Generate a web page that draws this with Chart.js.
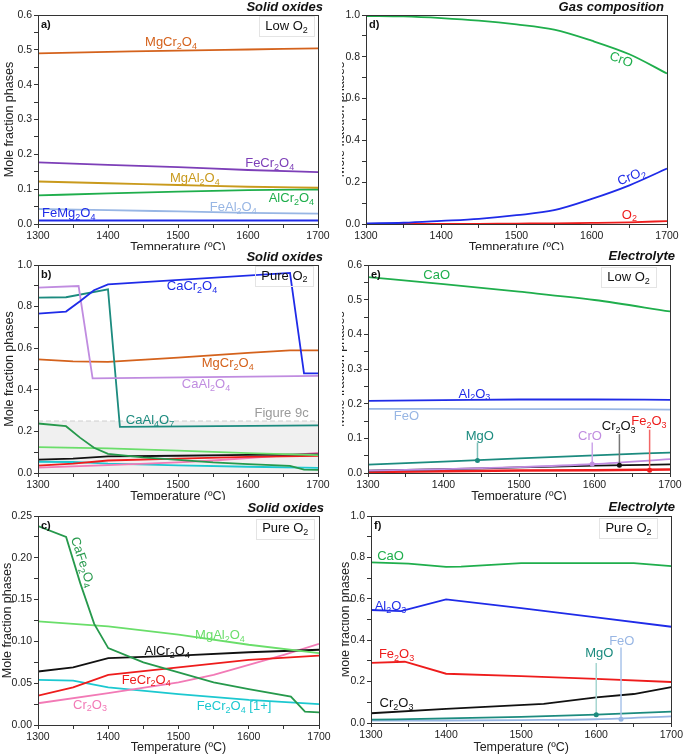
<!DOCTYPE html>
<html>
<head>
<meta charset="utf-8">
<script src="https://cdn.jsdelivr.net/npm/chart.js@4.4.0/dist/chart.umd.min.js"></script>
<style>
  body { margin: 0; background: #fff; }
  #wrap { position: relative; width: 685px; height: 756px; overflow: hidden; }
  canvas { position: absolute; }
</style>
</head>
<body>
<div id="wrap">
  <canvas id="pa" width="342" height="250" style="left:0;top:0"></canvas>
  <canvas id="pb" width="342" height="250" style="left:0;top:250px"></canvas>
  <canvas id="pc" width="342" height="256" style="left:0;top:500px"></canvas>
  <canvas id="pd" width="343" height="250" style="left:342px;top:0"></canvas>
  <canvas id="pe" width="343" height="250" style="left:342px;top:250px"></canvas>
  <canvas id="pf" width="343" height="256" style="left:342px;top:500px"></canvas>
</div>
<script>
// ---------------- data (temperature in ºC, mole fractions) ----------------
// a) solid oxides, low O2
const tA = [1300, 1400, 1500, 1600, 1700];
const aMgCr2O4 = [0.490, 0.494, 0.498, 0.501, 0.504];
const aFeCr2O4 = [0.177, 0.170, 0.163, 0.155, 0.149];
const aMgAl2O4 = [0.122, 0.117, 0.112, 0.107, 0.104];
const aAlCr2O4 = [0.082, 0.088, 0.093, 0.097, 0.099];
const aFeAl2O4 = [0.043, 0.040, 0.036, 0.032, 0.030];
const aFeMg2O4 = [0.010, 0.010, 0.010, 0.010, 0.010];

// d) gas composition
const tD = [1300, 1350, 1400, 1450, 1500, 1550, 1600, 1650, 1700];
const dCrO  = [0.995, 0.993, 0.985, 0.973, 0.955, 0.930, 0.877, 0.812, 0.720];
const dCrO2 = [0.003, 0.006, 0.015, 0.025, 0.042, 0.066, 0.120, 0.185, 0.265];
const dO2   = [0.000, 0.000, 0.000, 0.001, 0.002, 0.003, 0.005, 0.008, 0.014];

// b) solid oxides, pure O2 (major phases)
const tbCaCr2O4 = [1300, 1340, 1360, 1380, 1400, 1660, 1680, 1700];
const bCaCr2O4  = [0.766, 0.776, 0.826, 0.879, 0.907, 0.962, 0.479, 0.479];
const tbCaAl2O4 = [1300, 1358, 1378, 1700];
const bCaAl2O4  = [0.891, 0.899, 0.455, 0.467];
const tbCaAl4O7 = [1300, 1340, 1400, 1417, 1700];
const bCaAl4O7  = [0.843, 0.845, 0.883, 0.222, 0.229];
const tbMgCr2O4 = [1300, 1350, 1400, 1500, 1600, 1660, 1700];
const bMgCr2O4  = [0.546, 0.537, 0.534, 0.555, 0.578, 0.590, 0.590];
const bandT = [1300, 1700];
const bandV = [0.25, 0.25];

// c) solid oxides, pure O2 (minor phases, also shown in b)
const tcCaFe2O4 = [1300, 1340, 1360, 1380, 1400, 1450, 1500, 1550, 1600, 1660, 1680, 1700];
const cCaFe2O4  = [0.238, 0.225, 0.170, 0.121, 0.092, 0.075, 0.063, 0.051, 0.043, 0.034, 0.016, 0.015];
const tcMgAl2O4 = [1300, 1400, 1500, 1600, 1700];
const cMgAl2O4  = [0.124, 0.118, 0.108, 0.096, 0.086];
const tcAlCr2O4 = [1300, 1350, 1400, 1500, 1600, 1700];
const cAlCr2O4  = [0.064, 0.069, 0.080, 0.083, 0.087, 0.090];
const tcFeCr2O4 = [1300, 1350, 1400, 1500, 1600, 1700];
const cFeCr2O4  = [0.035, 0.045, 0.060, 0.069, 0.078, 0.083];
const tcCr2O3   = [1300, 1400, 1500, 1550, 1600, 1650, 1700];
const cCr2O3    = [0.026, 0.038, 0.051, 0.060, 0.072, 0.084, 0.097];
const tcFeCr2O4p = [1300, 1350, 1400, 1500, 1600, 1700];
const cFeCr2O4p  = [0.054, 0.053, 0.045, 0.037, 0.030, 0.025];

// e) electrolyte, low O2
const tE = [1300, 1400, 1500, 1600, 1700];
const eCaO   = [0.565, 0.545, 0.523, 0.499, 0.466];
const eAl2O3 = [0.208, 0.210, 0.212, 0.212, 0.211];
const eFeO   = [0.185, 0.185, 0.184, 0.184, 0.183];
const eMgO   = [0.024, 0.033, 0.042, 0.051, 0.059];
const eCrO   = [0.007, 0.011, 0.017, 0.026, 0.040];
const eCr2O3 = [0.007, 0.011, 0.016, 0.021, 0.025];
const eFe2O3 = [0.003, 0.005, 0.007, 0.008, 0.010];

// f) electrolyte, pure O2
const tfCaO = [1300, 1350, 1400, 1420, 1500, 1650, 1700];
const fCaO  = [0.776, 0.770, 0.754, 0.755, 0.772, 0.772, 0.758];
const tfAl2O3 = [1300, 1340, 1400, 1500, 1600, 1700];
const fAl2O3  = [0.546, 0.540, 0.597, 0.555, 0.510, 0.465];
const tfFe2O3 = [1300, 1345, 1400, 1500, 1600, 1700];
const fFe2O3  = [0.290, 0.296, 0.238, 0.226, 0.213, 0.198];
const tfCr2O3 = [1300, 1400, 1530, 1600, 1650, 1700];
const fCr2O3  = [0.047, 0.068, 0.092, 0.124, 0.140, 0.173];
const tF = [1300, 1400, 1500, 1600, 1700];
const fMgO = [0.016, 0.022, 0.030, 0.040, 0.055];
const fFeO = [0.011, 0.012, 0.014, 0.018, 0.032];

// ---------------- helpers ----------------
const FONT = "'Liberation Sans', Arial, sans-serif";
const C = {
    orange: '#d4621c', purple: '#7d3fb8', gold: '#c99a1c', green: '#1fae4c',
    ltblue: '#98b6e4', blue: '#1f2be8', red: '#ee1c1c', lav: '#c08ce0',
    teal: '#1c8b7f', dgreen: '#26994c', lgreen: '#6ade6a', pink: '#f27ab6',
    cyan: '#1cc8d0', black: '#111111'
};

function xy(t, v) {
    return t.map((x, i) => ({x: x, y: v[i]}));
}

function line(t, v, color, extra) {
    return Object.assign({
        data: xy(t, v), borderColor: color, borderWidth: 1.8,
        pointRadius: 0, tension: 0, fill: false
    }, extra || {});
}

function smooth(t, v, color) {
    return line(t, v, color, {cubicInterpolationMode: 'monotone'});
}

// marker on a curve with a vertical leader up to its label
function leader(x, y0, y1, color, dot) {
    return {
        data: [{x: x, y: y0}, {x: x, y: y1}], borderColor: color, borderWidth: 1.5,
        pointRadius: [2.5, 0], pointBackgroundColor: dot, pointBorderColor: dot,
        pointBorderWidth: 0, fill: false, order: -1
    };
}

function parseRich(s) {
    const segs = [];
    for (let i = 0; i < s.length; i++) {
        if (s[i] === '_') { segs.push({t: s[i + 1], sub: true}); i++; }
        else if (segs.length && !segs[segs.length - 1].sub) segs[segs.length - 1].t += s[i];
        else segs.push({t: s[i], sub: false});
    }
    return segs;
}

function drawRich(ctx, s, x, y, size, color, align, rot, weight) {
    const segs = parseRich(s);
    const w0 = weight ? weight + ' ' : '';
    const big = w0 + size + 'px ' + FONT, small = w0 + Math.round(size * 0.72) + 'px ' + FONT;
    let w = 0;
    segs.forEach(g => { ctx.font = g.sub ? small : big; g.w = ctx.measureText(g.t).width; w += g.w; });
    ctx.save();
    ctx.translate(x, y);
    if (rot) ctx.rotate(rot * Math.PI / 180);
    ctx.fillStyle = color;
    ctx.textBaseline = 'middle';
    ctx.textAlign = 'left';
    let cx = align === 'left' ? 0 : (align === 'right' ? -w : -w / 2);
    segs.forEach(g => {
        ctx.font = g.sub ? small : big;
        ctx.fillText(g.t, cx, g.sub ? size * 0.3 : 0);
        cx += g.w;
    });
    ctx.restore();
    return w;
}

const panelText = {
    id: 'panelText',
    afterDatasetsDraw(chart, args, o) {
        const ctx = chart.ctx, a = chart.chartArea;
        const xs = chart.scales.x, ys = chart.scales.y;
        ctx.save();
        ctx.strokeStyle = '#333';
        ctx.lineWidth = 1;
        ctx.strokeRect(Math.round(a.left) + 0.5, Math.round(a.top) + 0.5,
            Math.round(a.right - a.left), Math.round(a.bottom - a.top));

        (o.labels || []).forEach(l => {
            drawRich(ctx, l.t, xs.getPixelForValue(l.x), ys.getPixelForValue(l.y), 13, l.c, 'center', l.r || 0);
        });

        if (o.box) {
            const bx = xs.getPixelForValue(o.box.x), by = ys.getPixelForValue(o.box.y);
            const w = drawRich(ctx, o.box.t, bx, by, 13, '#111', 'center', 0);
            ctx.strokeStyle = '#e4e4e4';
            ctx.strokeRect(Math.round(bx - w / 2 - 6) + 0.5, Math.round(by - 10) + 0.5, Math.round(w + 12), 20);
        }

        drawRich(ctx, o.letter, a.left + 3, a.top + 10, 11, '#111', 'left', 0, 'bold');

        ctx.font = 'italic bold 13px ' + FONT;
        ctx.fillStyle = '#111';
        ctx.textAlign = 'right';
        ctx.textBaseline = 'middle';
        ctx.fillText(o.title, o.titleX, o.titleY);

        ctx.font = '12.5px ' + FONT;
        ctx.fillStyle = '#222';
        ctx.textAlign = 'center';
        ctx.fillText('Temperature (ºC)', (a.left + a.right) / 2, a.bottom + o.xTitleDy);

        ctx.translate(o.yTitleX, (a.top + a.bottom) / 2);
        ctx.rotate(-Math.PI / 2);
        ctx.fillText('Mole fraction phases', 0, 0);
        ctx.restore();
    }
};

function makePanel(id, p) {
    const cv = document.getElementById(id);
    const isMajor = v => Math.abs(v / p.yMajor - Math.round(v / p.yMajor)) < 1e-6;
    return new Chart(cv, {
        type: 'line',
        data: {datasets: p.datasets},
        plugins: [panelText],
        options: {
            responsive: false,
            animation: false,
            layout: {padding: {top: p.area.t, right: cv.width - p.area.r, left: 0, bottom: 0}},
            plugins: {
                legend: {display: false},
                tooltip: {enabled: false},
                panelText: p.text
            },
            scales: {
                x: {
                    type: 'linear', min: 1300, max: 1700,
                    afterFit: s => { s.height = cv.height - p.area.b; },
                    grid: {drawOnChartArea: false, tickLength: 4, color: '#333'},
                    border: {color: '#333'},
                    ticks: {
                        stepSize: 50, autoSkip: false, maxRotation: 0, padding: 2,
                        color: '#222', font: {size: 10.5, family: FONT},
                        callback: v => (v % 100 === 0 ? v : '')
                    }
                },
                y: {
                    min: 0, max: p.yMax,
                    afterFit: s => { s.width = p.area.l; },
                    grid: {drawOnChartArea: false, tickLength: 4, color: '#333'},
                    border: {color: '#333'},
                    ticks: {
                        stepSize: p.yMajor / 2, autoSkip: false, padding: 2,
                        color: '#222', font: {size: 10.5, family: FONT},
                        callback: v => (isMajor(v) ? v.toFixed(p.yDec) : '')
                    }
                }
            }
        }
    });
}

// minor pure-O2 solid oxides, shared by panels b and c
function minorOxides() {
    return [
        line(tcCaFe2O4, cCaFe2O4, C.dgreen),
        line(tcMgAl2O4, cMgAl2O4, C.lgreen),
        line(tcAlCr2O4, cAlCr2O4, C.black),
        line(tcFeCr2O4, cFeCr2O4, C.red),
        line(tcCr2O3, cCr2O3, C.pink),
        line(tcFeCr2O4p, cFeCr2O4p, C.cyan)
    ];
}

// ---------------- panels ----------------
makePanel('pa', {
    area: {l: 38, r: 318, t: 15, b: 224}, yMax: 0.6, yMajor: 0.1, yDec: 1,
    datasets: [
        smooth(tA, aMgCr2O4, C.orange),
        smooth(tA, aFeCr2O4, C.purple),
        smooth(tA, aMgAl2O4, C.gold),
        smooth(tA, aAlCr2O4, C.green),
        smooth(tA, aFeAl2O4, C.ltblue),
        smooth(tA, aFeMg2O4, C.blue)
    ],
    text: {
        title: 'Solid oxides', titleX: 323, titleY: 7.5, letter: 'a)', xTitleDy: 24, yTitleX: 10,
        box: {t: 'Low O_2', x: 1655, y: 0.567},
        labels: [
            {t: 'MgCr_2O_4', x: 1490, y: 0.522, c: C.orange},
            {t: 'FeCr_2O_4', x: 1631, y: 0.173, c: C.purple},
            {t: 'MgAl_2O_4', x: 1524, y: 0.131, c: C.gold},
            {t: 'AlCr_2O_4', x: 1662, y: 0.072, c: C.green},
            {t: 'FeAl_2O_4', x: 1579, y: 0.048, c: C.ltblue},
            {t: 'FeMg_2O_4', x: 1344, y: 0.031, c: C.blue}
        ]
    }
});

makePanel('pb', {
    area: {l: 38, r: 318, t: 15, b: 223}, yMax: 1.0, yMajor: 0.2, yDec: 1,
    datasets: [
        line(tbCaCr2O4, bCaCr2O4, C.blue),
        line(tbCaAl2O4, bCaAl2O4, C.lav),
        line(tbCaAl4O7, bCaAl4O7, C.teal),
        line(tbMgCr2O4, bMgCr2O4, C.orange)
    ].concat(minorOxides(), [
        line(bandT, bandV, '#cfcfcf', {borderDash: [5, 3], borderWidth: 1, fill: 'origin',
            backgroundColor: 'rgba(238,238,238,0.9)', order: 100})
    ]),
    text: {
        title: 'Solid oxides', titleX: 323, titleY: 7.5, letter: 'b)', xTitleDy: 24, yTitleX: 9.5,
        box: {t: 'Pure O_2', x: 1652, y: 0.947},
        labels: [
            {t: 'CaCr_2O_4', x: 1520, y: 0.896, c: C.blue},
            {t: 'MgCr_2O_4', x: 1571, y: 0.528, c: C.orange},
            {t: 'CaAl_2O_4', x: 1540, y: 0.424, c: C.lav},
            {t: 'CaAl_4O_7', x: 1460, y: 0.253, c: C.teal},
            {t: 'Figure 9c', x: 1648, y: 0.288, c: '#9a9a9a'}
        ]
    }
});

makePanel('pc', {
    area: {l: 38, r: 319, t: 16, b: 225}, yMax: 0.25, yMajor: 0.05, yDec: 2,
    datasets: minorOxides(),
    text: {
        title: 'Solid oxides', titleX: 324, titleY: 8.5, letter: 'c)', xTitleDy: 23, yTitleX: 7.5,
        box: {t: 'Pure O_2', x: 1652, y: 0.235},
        labels: [
            {t: 'CaFe_2O_4', x: 1363, y: 0.195, c: C.dgreen, r: 72},
            {t: 'MgAl_2O_4', x: 1559, y: 0.1075, c: C.lgreen},
            {t: 'AlCr_2O_4', x: 1484, y: 0.0876, c: C.black},
            {t: 'FeCr_2O_4', x: 1454, y: 0.0537, c: C.red},
            {t: 'Cr_2O_3', x: 1374, y: 0.0239, c: C.pink},
            {t: 'FeCr_2O_4 [1+]', x: 1579, y: 0.0219, c: C.cyan}
        ]
    }
});

makePanel('pd', {
    area: {l: 24, r: 325, t: 15, b: 224}, yMax: 1.0, yMajor: 0.2, yDec: 1,
    datasets: [
        smooth(tD, dCrO, C.green),
        smooth(tD, dCrO2, C.blue),
        smooth(tD, dO2, C.red)
    ],
    text: {
        title: 'Gas composition', titleX: 322, titleY: 7, letter: 'd)', xTitleDy: 24, yTitleX: -1,
        labels: [
            {t: 'CrO', x: 1639, y: 0.785, c: C.green, r: 20},
            {t: 'CrO_2', x: 1653, y: 0.226, c: C.blue, r: -22},
            {t: 'O_2', x: 1650, y: 0.043, c: C.red}
        ]
    }
});

makePanel('pe', {
    area: {l: 26, r: 328, t: 15, b: 223}, yMax: 0.6, yMajor: 0.1, yDec: 1,
    datasets: [
        smooth(tE, eCaO, C.green),
        smooth(tE, eAl2O3, C.blue),
        smooth(tE, eFeO, C.ltblue),
        smooth(tE, eMgO, C.teal),
        smooth(tE, eCrO, C.lav),
        smooth(tE, eCr2O3, C.black),
        line(tE, eFe2O3, C.red, {borderWidth: 2.5}),
        leader(1445, 0.036, 0.088, '#7cbfb8', C.teal),
        leader(1597, 0.026, 0.088, '#cda6ea', C.lav),
        leader(1633, 0.022, 0.112, '#777777', C.black),
        leader(1673, 0.008, 0.125, '#f26666', C.red)
    ],
    text: {
        title: 'Electrolyte', titleX: 333, titleY: 6, letter: 'e)', xTitleDy: 24, yTitleX: -1,
        box: {t: 'Low O_2', x: 1645, y: 0.565},
        labels: [
            {t: 'CaO', x: 1391, y: 0.571, c: C.green},
            {t: 'Al_2O_3', x: 1441, y: 0.228, c: C.blue},
            {t: 'FeO', x: 1351, y: 0.1635, c: C.ltblue},
            {t: 'MgO', x: 1448, y: 0.106, c: C.teal},
            {t: 'CrO', x: 1594, y: 0.106, c: C.lav},
            {t: 'Cr_2O_3', x: 1632, y: 0.135, c: C.black},
            {t: 'Fe_2O_3', x: 1672, y: 0.148, c: C.red}
        ]
    }
});

makePanel('pf', {
    area: {l: 29, r: 331, t: 16, b: 223}, yMax: 1.0, yMajor: 0.2, yDec: 1,
    datasets: [
        line(tfCaO, fCaO, C.green),
        line(tfAl2O3, fAl2O3, C.blue),
        line(tfFe2O3, fFe2O3, C.red),
        line(tfCr2O3, fCr2O3, C.black),
        smooth(tF, fMgO, C.teal),
        smooth(tF, fFeO, C.ltblue),
        leader(1600, 0.040, 0.290, '#a6d6d1', C.teal),
        leader(1633, 0.018, 0.365, '#a9c4ea', C.ltblue)
    ],
    text: {
        title: 'Electrolyte', titleX: 333, titleY: 7.5, letter: 'f)', xTitleDy: 25, yTitleX: 4,
        box: {t: 'Pure O_2', x: 1643, y: 0.94},
        labels: [
            {t: 'CaO', x: 1326, y: 0.803, c: C.green},
            {t: 'Al_2O_3', x: 1326, y: 0.562, c: C.blue},
            {t: 'Fe_2O_3', x: 1334, y: 0.329, c: C.red},
            {t: 'Cr_2O_3', x: 1334, y: 0.096, c: C.black},
            {t: 'MgO', x: 1604, y: 0.334, c: C.teal},
            {t: 'FeO', x: 1634, y: 0.393, c: C.ltblue}
        ]
    }
});
</script>
</body>
</html>
